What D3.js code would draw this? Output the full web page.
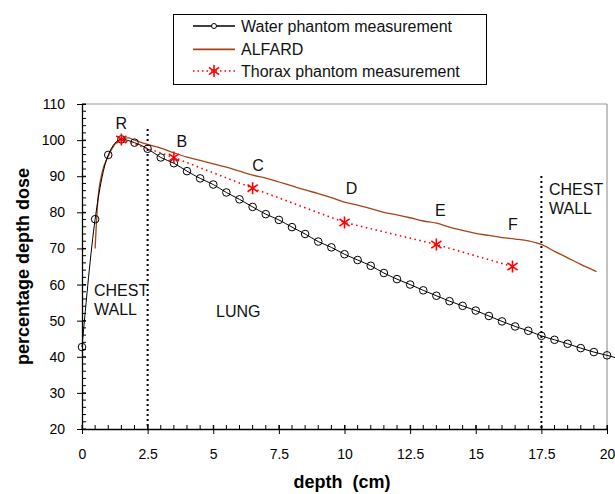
<!DOCTYPE html>
<html><head><meta charset="utf-8">
<script src="https://cdn.jsdelivr.net/npm/d3@7"></script>
<style>body{margin:0;background:#fff}svg{display:block;font-family:"Liberation Sans",Arial,sans-serif}</style>
</head><body><svg id="c" width="615" height="494"></svg>
<script>
const waterX = [0,0.5,1,1.5,2,2.5,3,3.5,4,4.5,5,5.5,6,6.5,7,7.5,8,8.5,9,9.5,10,10.5,11,11.5,12,12.5,13,13.5,14,14.5,15,15.5,16,16.5,17,17.5,18,18.5,19,19.5,20,20.5];
const waterY = [42.7,78.1,95.9,100.2,99.3,97.6,95.2,93.6,91.4,89.4,87.7,85.5,83.6,81.5,79.5,77.9,75.9,74.0,71.9,70.3,68.4,66.8,65.2,63.2,61.5,60.0,58.4,56.9,55.4,54.1,52.8,51.3,49.8,48.4,47.2,45.8,44.7,43.6,42.4,41.3,40.4,39.4];
const alfardX = [0.5,0.6,0.75,1.0,1.25,1.5,1.75,2.0,2.5,3,3.5,4,4.5,5,5.5,6,6.5,7,7.5,8,8.5,9,9.5,10,10.5,11,11.5,12,12.5,13,13.5,14,14.5,15,15.5,16,16.5,17,17.5,18,18.5,19,19.6];
const alfardY = [70,83,90.5,95.5,98.8,100.3,100.6,100,98.8,97.8,96.5,95.3,94.4,93.4,92.5,91.4,90.3,89.5,88.4,87.3,86.2,85.2,84.1,82.8,82.0,81.0,80.0,79.3,78.5,77.6,77.0,75.9,75.0,74.2,73.6,73.0,72.6,72.1,71.1,69.2,67.4,65.6,63.6];
const thoraxX = [1.5,3.5,6.5,10,13.5,16.4];
const thoraxY = [100.2,95.2,86.7,77.2,71.1,65.0];
const pointLabels = ["R","B","C","D","E","F"];
const xTicks = [0,2.5,5,7.5,10,12.5,15,17.5,20];
const xTickLabels = ["0","2.5","5","7.5","10","12.5","15","17.5","20"];
const yTicks = [20,30,40,50,60,70,80,90,100,110];
const seriesNames = ["Water phantom measurement","ALFARD","Thorax phantom measurement"];

const svg = d3.select("#c");
const x = d3.scaleLinear().domain([0,20]).range([82,607]);
const y = d3.scaleLinear().domain([20,110]).range([429,104]);
const brown = "#a34419";

// frame
svg.append("line").attr("x1",x(0)).attr("x2",x(20)).attr("y1",y(110)).attr("y2",y(110)).attr("stroke","#999").attr("stroke-width",1.2);
svg.append("line").attr("x1",x(20)).attr("x2",x(20)).attr("y1",y(110)).attr("y2",y(20)).attr("stroke","#999").attr("stroke-width",1.2);

// minor ticks
const g = svg.append("g").attr("stroke","#000").attr("stroke-width",1);
d3.range(20,111,2).forEach(v=>{
  g.append("line").attr("x1",x(0)).attr("x2",x(0)+4).attr("y1",y(v)).attr("y2",y(v));
});
d3.range(0,20.01,0.5).forEach(v=>{
  g.append("line").attr("x1",x(v)).attr("x2",x(v)).attr("y1",y(20)).attr("y2",y(20)-4);
});
// axes
const yAxis = d3.axisLeft(y).tickValues(yTicks).tickSizeInner(5).tickSizeOuter(0).tickPadding(12);
const ya = svg.append("g").attr("transform",`translate(${x(0)},0)`).call(yAxis);
const xAxis = d3.axisBottom(x).tickValues(xTicks).tickFormat((d,i)=>xTickLabels[i]).tickSizeInner(5).tickSizeOuter(0).tickPadding(15);
const xa = svg.append("g").attr("transform",`translate(0,${y(20)})`).call(xAxis);
[ya,xa].forEach(a=>{
  a.select(".domain").attr("stroke","#000").attr("stroke-width",1.3);
  a.selectAll("text").attr("font-size",14).attr("fill","#000").attr("font-family","Liberation Sans, Arial, sans-serif");
});
ya.selectAll(".tick line").attr("x2",-5).attr("x1",4);
xa.selectAll(".tick line").attr("y1",-4).attr("y2",5);

// region dividers
svg.append("line").attr("x1",x(2.5)).attr("x2",x(2.5)).attr("y1",129).attr("y2",y(20)).attr("stroke","#000").attr("stroke-width",2).attr("stroke-dasharray","2,3");
svg.append("line").attr("x1",x(17.5)).attr("x2",x(17.5)).attr("y1",176).attr("y2",y(20)).attr("stroke","#000").attr("stroke-width",2).attr("stroke-dasharray","2,3");

const water = waterX.map((v,i)=>[v,waterY[i]]);
const alfard = alfardX.map((v,i)=>[v,alfardY[i]]);
const thorax = thoraxX.map((v,i)=>[v,thoraxY[i]]);

svg.append("path").datum(alfard).attr("d",d3.line().x(d=>x(d[0])).y(d=>y(d[1])).curve(d3.curveMonotoneX)).attr("fill","none").attr("stroke",brown).attr("stroke-width",1.3);
svg.append("path").datum(water).attr("d",d3.line().x(d=>x(d[0])).y(d=>y(d[1])).curve(d3.curveMonotoneX)).attr("fill","none").attr("stroke","#000").attr("stroke-width",1);
svg.selectAll(".wc").data(water).enter().append("circle").attr("cx",d=>x(d[0])).attr("cy",d=>y(d[1])).attr("r",3.8).attr("fill","none").attr("stroke","#000").attr("stroke-width",1);
svg.append("path").datum(thorax).attr("d",d3.line().x(d=>x(d[0])).y(d=>y(d[1]))).attr("fill","none").attr("stroke","#f00").attr("stroke-width",1.6).attr("stroke-dasharray","1.5,3.5");
function star(cx,cy,s){return `M${cx},${cy-s}L${cx},${cy+s}M${cx-s*0.85},${cy-s*0.6}L${cx+s*0.85},${cy+s*0.6}M${cx-s*0.85},${cy+s*0.6}L${cx+s*0.85},${cy-s*0.6}`;}
svg.selectAll(".ts").data(thorax).enter().append("path").attr("d",d=>star(x(d[0]),y(d[1]),6)).attr("stroke","#f00").attr("stroke-width",1.6).attr("fill","none");

// point labels
const labOff = [[0,-10],[8,-10],[5.5,-17],[7,-28.5],[4,-28],[0.5,-36.5]];
svg.selectAll(".pl").data(thorax).enter().append("text").attr("x",(d,i)=>x(d[0])+labOff[i][0]).attr("y",(d,i)=>y(d[1])+labOff[i][1]).attr("text-anchor","middle").attr("font-size",16).attr("fill","#111").text((d,i)=>pointLabels[i]);

// region labels
const tl = (t,xx,yy)=>svg.append("text").attr("x",xx).attr("y",yy).attr("font-size",16).attr("fill","#111").text(t);
tl("CHEST",94,296); tl("WALL",94,315);
tl("LUNG",216,317);
tl("CHEST",549,195); tl("WALL",549,213.5);

// axis titles
svg.append("text").attr("transform",`translate(29,${(104+429)/2}) rotate(-90)`).attr("text-anchor","middle").attr("font-size",18).attr("font-weight","bold").text("percentage depth dose");
svg.append("text").attr("x",342).attr("y",488).attr("text-anchor","middle").attr("font-size",18).attr("font-weight","bold").attr("xml:space","preserve").text("depth  (cm)");

// legend
svg.append("rect").attr("x",173.5).attr("y",14.5).attr("width",313).attr("height",70).attr("fill","#fff").attr("stroke","#000").attr("stroke-width",1);
const ly = [26,49.3,71];
svg.append("line").attr("x1",193).attr("x2",235).attr("y1",ly[0]).attr("y2",ly[0]).attr("stroke","#000").attr("stroke-width",1.5);
svg.append("circle").attr("cx",214).attr("cy",ly[0]).attr("r",2.5).attr("fill","#fff").attr("stroke","#000");
svg.append("line").attr("x1",193).attr("x2",235).attr("y1",ly[1]).attr("y2",ly[1]).attr("stroke",brown).attr("stroke-width",1.8);
svg.append("line").attr("x1",193).attr("x2",235).attr("y1",ly[2]).attr("y2",ly[2]).attr("stroke","#f00").attr("stroke-width",1.3).attr("stroke-dasharray","1.5,3");
svg.append("path").attr("d",star(214,ly[2],6)).attr("stroke","#f00").attr("stroke-width",1.6);
seriesNames.forEach((n,i)=>svg.append("text").attr("x",241).attr("y",ly[i]+6).attr("font-size",16).attr("fill","#111").text(n));
</script></body></html>
